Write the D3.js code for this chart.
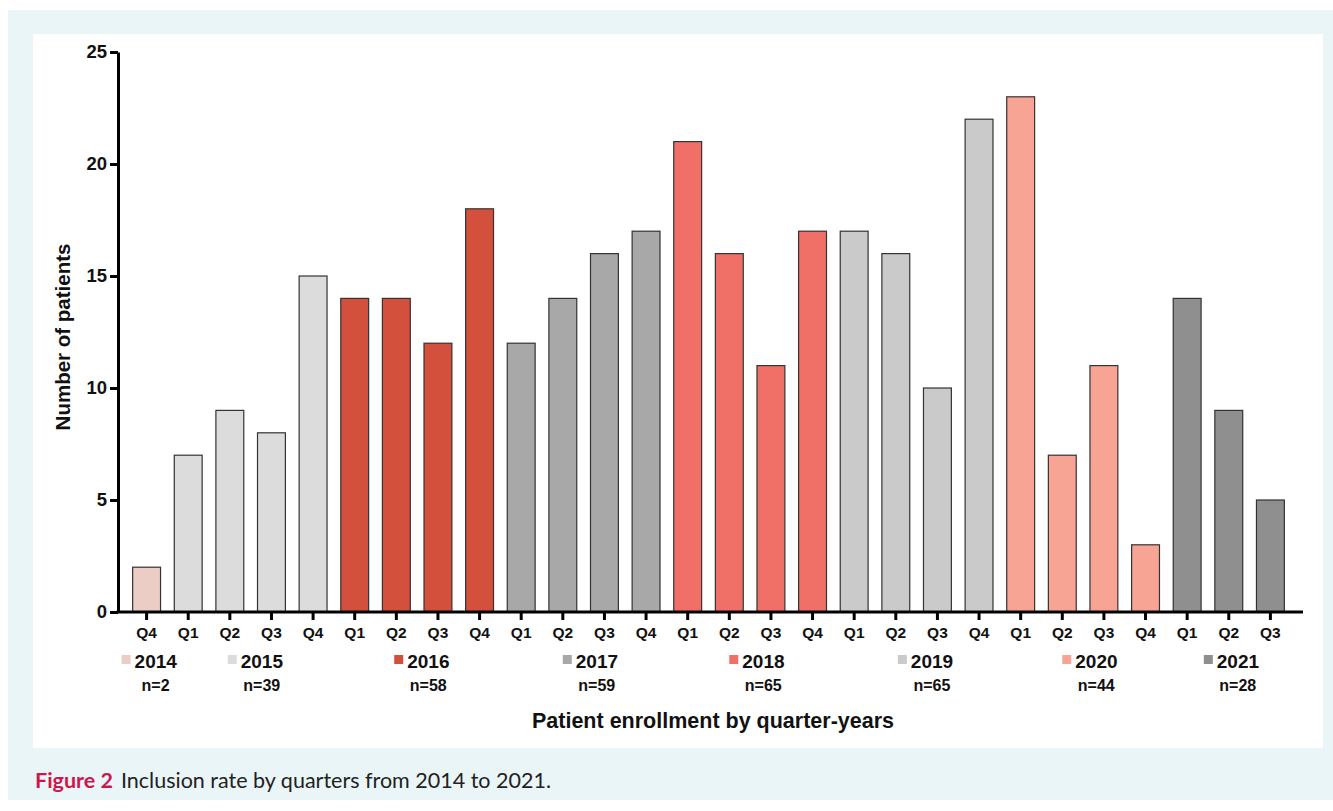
<!DOCTYPE html>
<html>
<head>
<meta charset="utf-8">
<script src="https://cdn.jsdelivr.net/npm/d3@7"></script>
<style>
  body { margin: 0; background: #fff; }
  svg { display: block; }
</style>
</head>
<body>
<svg></svg>
<script>
// data
const years = ['2014', '2015', '2016', '2017', '2018', '2019', '2020', '2021'];
const yearTotals = [2, 39, 58, 59, 65, 65, 44, 28];
const yearColors = ['#ebcdc6', '#dcdcdc', '#d2503c', '#a8a8a8', '#f07068', '#cacaca', '#f7a494', '#8f8f8f'];
const quarters = ['Q4',
  'Q1', 'Q2', 'Q3', 'Q4',
  'Q1', 'Q2', 'Q3', 'Q4',
  'Q1', 'Q2', 'Q3', 'Q4',
  'Q1', 'Q2', 'Q3', 'Q4',
  'Q1', 'Q2', 'Q3', 'Q4',
  'Q1', 'Q2', 'Q3', 'Q4',
  'Q1', 'Q2', 'Q3'];
const barYears = ['2014',
  '2015', '2015', '2015', '2015',
  '2016', '2016', '2016', '2016',
  '2017', '2017', '2017', '2017',
  '2018', '2018', '2018', '2018',
  '2019', '2019', '2019', '2019',
  '2020', '2020', '2020', '2020',
  '2021', '2021', '2021'];
const patients = [2,
  7, 9, 8, 15,
  14, 14, 12, 18,
  12, 14, 16, 17,
  21, 16, 11, 17,
  17, 16, 10, 22,
  23, 7, 11, 3,
  14, 9, 5];
const yTicks = [0, 5, 10, 15, 20, 25];

// legend slot for each year, measured in bar steps from first bar
const legendSlot = [0.0, 2.55, 6.55, 10.6, 14.6, 18.65, 22.6, 26.0];

const W = 1333, H = 811;
const FONT = 'Liberation Sans, Arial, sans-serif';
const svg = d3.select('svg').attr('width', W).attr('height', H);

// frame
svg.append('rect').attr('x', 8).attr('y', 10).attr('width', W - 8).attr('height', 790).attr('fill', '#eaf5f8');
svg.append('rect').attr('x', 33).attr('y', 34).attr('width', 1290).attr('height', 714).attr('fill', '#fff');

const X0 = 118, X1 = 1303, Y0 = 612, Y1 = 52;
const idx = d3.range(patients.length);

const x = d3.scaleBand()
    .domain(idx)
    .range([X0 - 2, X1 - 2])
    .paddingInner(0.33)
    .paddingOuter(0.4);

const y = d3.scaleLinear().domain([0, 25]).range([Y0, Y1]);
const color = d3.scaleOrdinal().domain(years).range(yearColors);

// bars
svg.append('g').selectAll('rect')
  .data(idx)
  .join('rect')
    .attr('x', i => x(i))
    .attr('y', i => y(patients[i]))
    .attr('width', x.bandwidth())
    .attr('height', i => y(0) - y(patients[i]))
    .attr('fill', i => color(barYears[i]))
    .attr('stroke', '#333')
    .attr('stroke-width', 1.2);

// y axis
const yAxisG = svg.append('g').attr('transform', `translate(${X0}, 0)`);
yAxisG.call(d3.axisLeft(y).tickValues(yTicks).tickSize(8).tickPadding(3).tickSizeOuter(0));
yAxisG.select('.domain').attr('stroke', '#000').attr('stroke-width', 3);
yAxisG.selectAll('.tick line').attr('stroke', '#000').attr('stroke-width', 3);
yAxisG.selectAll('.tick text')
    .attr('font-family', FONT)
    .attr('font-weight', 'bold')
    .attr('font-size', 18.5)
    .attr('fill', '#111');

// x axis
const xAxisG = svg.append('g').attr('transform', `translate(0, ${Y0})`);
xAxisG.call(d3.axisBottom(x).tickFormat(i => quarters[i]).tickSize(8).tickPadding(7).tickSizeOuter(0));
xAxisG.select('.domain').attr('d', `M${X0 - 1.5},0H${X1}`).attr('stroke', '#000').attr('stroke-width', 3);
xAxisG.selectAll('.tick line').attr('stroke', '#000').attr('stroke-width', 3);
xAxisG.selectAll('.tick text')
    .attr('font-family', FONT)
    .attr('font-weight', 'bold')
    .attr('font-size', 15.5)
    .attr('fill', '#111');

// year legend
const step = x.step();
const legend = svg.append('g').selectAll('g')
  .data(years)
  .join('g')
    .attr('transform', (d, i) => `translate(${x(0) + x.bandwidth() / 2 + legendSlot[i] * step}, 0)`);

legend.append('rect')
    .attr('x', -25).attr('y', 655)
    .attr('width', 9).attr('height', 9)
    .attr('fill', d => color(d));

legend.append('text')
    .attr('x', -12).attr('y', 668)
    .attr('font-family', FONT)
    .attr('font-weight', 'bold')
    .attr('font-size', 19)
    .attr('fill', '#111')
    .text(d => d);

legend.append('text')
    .attr('x', 9).attr('y', 691)
    .attr('text-anchor', 'middle')
    .attr('font-family', FONT)
    .attr('font-weight', 'bold')
    .attr('font-size', 16)
    .attr('fill', '#111')
    .text((d, i) => `n=${yearTotals[i]}`);

// axis titles
svg.append('text')
    .attr('x', 713).attr('y', 728)
    .attr('text-anchor', 'middle')
    .attr('font-family', FONT)
    .attr('font-weight', 'bold')
    .attr('font-size', 21.5)
    .attr('fill', '#111')
    .text('Patient enrollment by quarter-years');

svg.append('text')
    .attr('transform', 'translate(70, 337) rotate(-90)')
    .attr('text-anchor', 'middle')
    .attr('font-family', FONT)
    .attr('font-weight', 'bold')
    .attr('font-size', 20.5)
    .attr('fill', '#111')
    .text('Number of patients');

// caption
const cap = svg.append('text')
    .attr('x', 35).attr('y', 788)
    .attr('font-family', 'Lato, sans-serif')
    .attr('font-size', 21.5)
    .attr('fill', '#222');
cap.append('tspan').attr('font-weight', 'bold').attr('fill', '#d0154e').text('Figure 2');
cap.append('tspan').attr('dx', 8).text('Inclusion rate by quarters from 2014 to 2021.');
</script>
</body>
</html>
